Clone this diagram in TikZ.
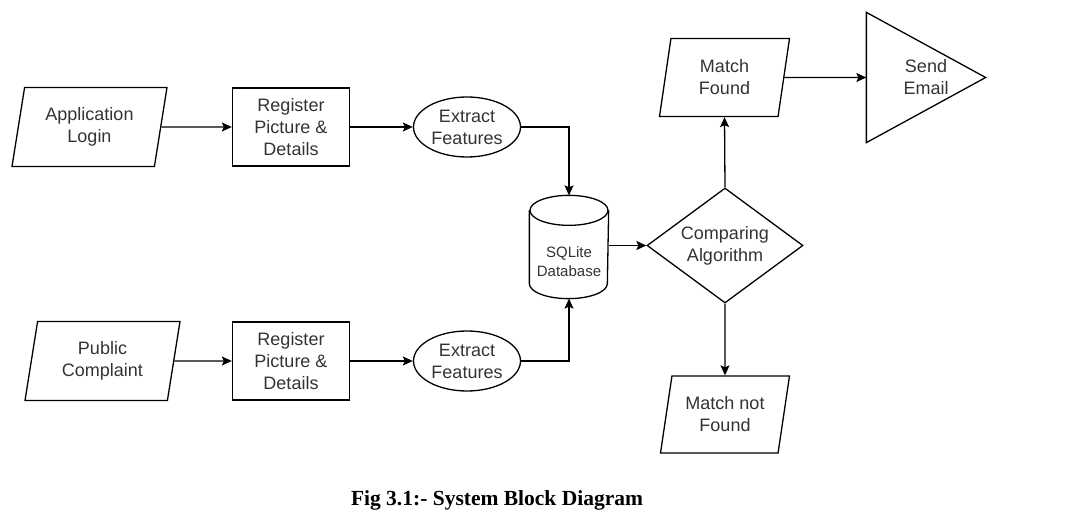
\documentclass[tikz,border=0pt]{standalone}
\usepackage{fontspec}
\setmainfont{Liberation Sans}
\newfontfamily\capfont{Liberation Serif}
\usetikzlibrary{calc,arrows.meta,shapes.geometric}
\tikzset{
  every node/.style={text=black!80, align=center, font=\fontsize{18}{22}\selectfont},
  io/.style={draw, trapezium, trapezium left angle=72, trapezium right angle=108,
    trapezium stretches body=true, minimum height=79pt, inner sep=0pt},
  proc/.style={draw, rectangle, minimum width=117pt, minimum height=78pt, inner sep=0pt},
  oval/.style={draw, ellipse, minimum width=107pt, minimum height=60pt, inner sep=0pt},
  decide/.style={draw, diamond, aspect=1.36, minimum width=156pt, minimum height=115pt, inner sep=0pt},
  arr/.style={-{Stealth[length=10pt,width=9pt,inset=2pt]}},
}

\begin{document}
\begin{tikzpicture}[x=1pt, y=-1pt, line width=1.3pt]
			%%%%% START %%%%%
			\useasboundingbox (0, 0) rectangle (1077, 526);
			
			\node[io, minimum width=155pt] (login) at (89.5, 127) {Application\\Login};
			\node[proc] (reg1) at (291, 127) {Register\\Picture \&\\Details};
			\node[oval] (ext1) at (467, 127) {Extract\\Features};
			
			\node[io, minimum width=155pt] (complaint) at (102.5, 361) {Public\\Complaint};
			\node[proc] (reg2) at (291, 361) {Register\\Picture \&\\Details};
			\node[oval] (ext2) at (467, 361) {Extract\\Features};
			
			% database
			\node[minimum width=78pt, minimum height=72pt, inner sep=0pt,
			  font=\fontsize{15}{19}\selectfont] (db) at (569, 262) {SQLite\\Database};
			\coordinate (dbtop) at ($(db.north)+(0, -30)$);
			\draw ($(db.north)+(0, -15)$) ellipse [x radius=39pt, y radius=15pt];
			\draw ($(db.north west)+(0, -15)$) -- ($(db.south west)+(0, -15)$)
			  arc[start angle=180, end angle=360, x radius=39pt, y radius=15pt]
			  -- ($(db.north east)+(0, -15)$);
			
			\node[decide] (cmp) at (725, 245.5) {Comparing\\Algorithm};
			\node[io, minimum width=130pt, minimum height=78pt] (found) at (724.5, 77.5) {Match\\Found};
			\node[io, minimum width=129pt, minimum height=77pt] (notfound) at (725, 414.5) {Match not\\Found};
			
			% send email
			\node[minimum width=118pt, minimum height=129pt, inner sep=0pt] (email) at (926, 77.5) {Send\\Email};
			\draw (email.north west) -- (email.south west) -- (email.east) -- cycle;
			
			\draw[arr] (login) -- (reg1);
			\draw[arr] (reg1) -- (ext1);
			\draw[arr] (complaint) -- (reg2);
			\draw[arr] (reg2) -- (ext2);
			\draw[arr] (ext1.east) -| (dbtop);
			\draw[arr] (ext2.east) -| (db.south);
			\draw[arr] (db.east |- cmp) -- (cmp.west);
			\draw[arr] (cmp.north) -- (found.south);
			\draw[arr] (cmp.south) -- (notfound.north);
			\draw[arr] (found.east) -- (email.west);
			
			\node[text=black, font=\capfont\bfseries\fontsize{21.5}{24}\selectfont] (caption) at (497, 500) {Fig 3.1:- System Block Diagram};
			%%%%% END %%%%%
\end{tikzpicture}
\end{document}
